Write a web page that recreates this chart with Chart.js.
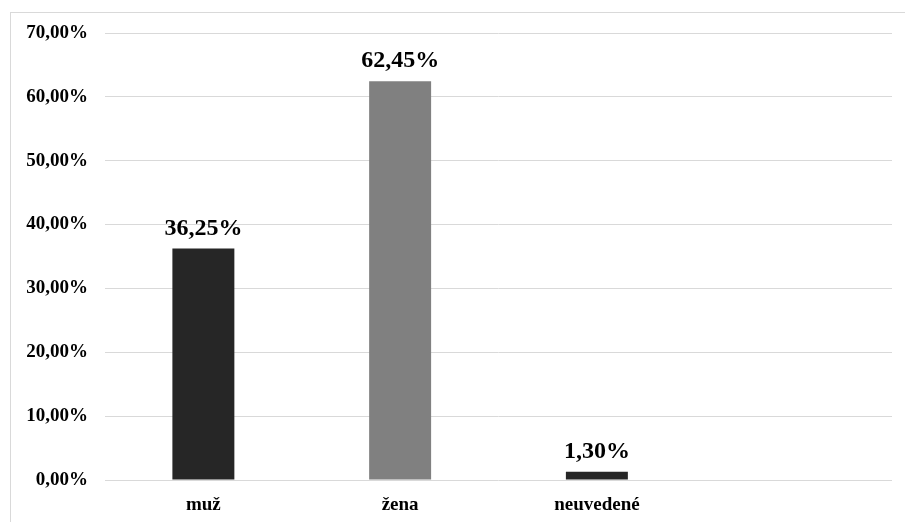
<!DOCTYPE html>
<html><head><meta charset="utf-8">
<script src="https://cdn.jsdelivr.net/npm/chart.js@4/dist/chart.umd.min.js"></script>
<style>
html,body{margin:0;padding:0;background:#fff;overflow:hidden;}
#wrap{position:relative;width:905px;height:522px;}
#frame{position:absolute;left:10px;top:12px;width:1000px;height:1000px;border:1px solid #d9d9d9;box-sizing:border-box;}
canvas{position:absolute;left:0;top:0;}
</style></head>
<body>
<div id="wrap"><div id="frame"></div><canvas id="c" width="905" height="522"></canvas></div>
<script>
const categories = ["muž", "žena", "neuvedené", ""];
const values = [36.25, 62.45, 1.30, null];
const barColors = ["#262626", "#808080", "#262626", "#262626"];
const yTicks = [0, 10, 20, 30, 40, 50, 60, 70];

const fmt = v => v.toFixed(2).replace('.', ',') + '%';
const serif = "'Liberation Serif', 'Times New Roman', serif";

const labelPlugin = {
  id: 'vlabels',
  afterDatasetsDraw(chart) {
    const ctx = chart.ctx;
    const meta = chart.getDatasetMeta(0);
    ctx.save();
    ctx.font = "bold 24px " + serif;
    ctx.fillStyle = "#000";
    ctx.textAlign = "center";
    ctx.textBaseline = "alphabetic";
    meta.data.forEach((bar, i) => {
      const v = values[i];
      if (v == null) return;
      ctx.fillText(fmt(v), bar.x, bar.y - 14);
    });
    ctx.restore();
  }
};

new Chart(document.getElementById('c'), {
  type: 'bar',
  data: {
    labels: categories,
    datasets: [{
      data: values,
      backgroundColor: barColors,
      borderWidth: 0,
      categoryPercentage: 1,
      barPercentage: 0.315
    }]
  },
  options: {
    responsive: false,
    animation: false,
    events: [],
    layout: { padding: { top: 33, right: 13, left: 0, bottom: 0 } },
    plugins: { legend: { display: false }, tooltip: { enabled: false } },
    scales: {
      x: {
        grid: { display: false },
        border: { display: false },
        ticks: { color: "#000", font: { family: serif, size: 19, weight: 'bold' }, padding: 6 },
        afterFit(s) { s.height = 42; }
      },
      y: {
        min: 0, max: 70,
        afterBuildTicks(s) { s.ticks = yTicks.map(v => ({ value: v })); },
        grid: { color: "#d9d9d9", lineWidth: 1, drawTicks: false },
        border: { display: false },
        ticks: { color: "#000", font: { family: serif, size: 19, weight: 'bold' }, padding: 17, callback: v => fmt(v) },
        afterFit(s) { s.width = 105; }
      }
    }
  },
  plugins: [labelPlugin]
});
</script>
</body></html>
